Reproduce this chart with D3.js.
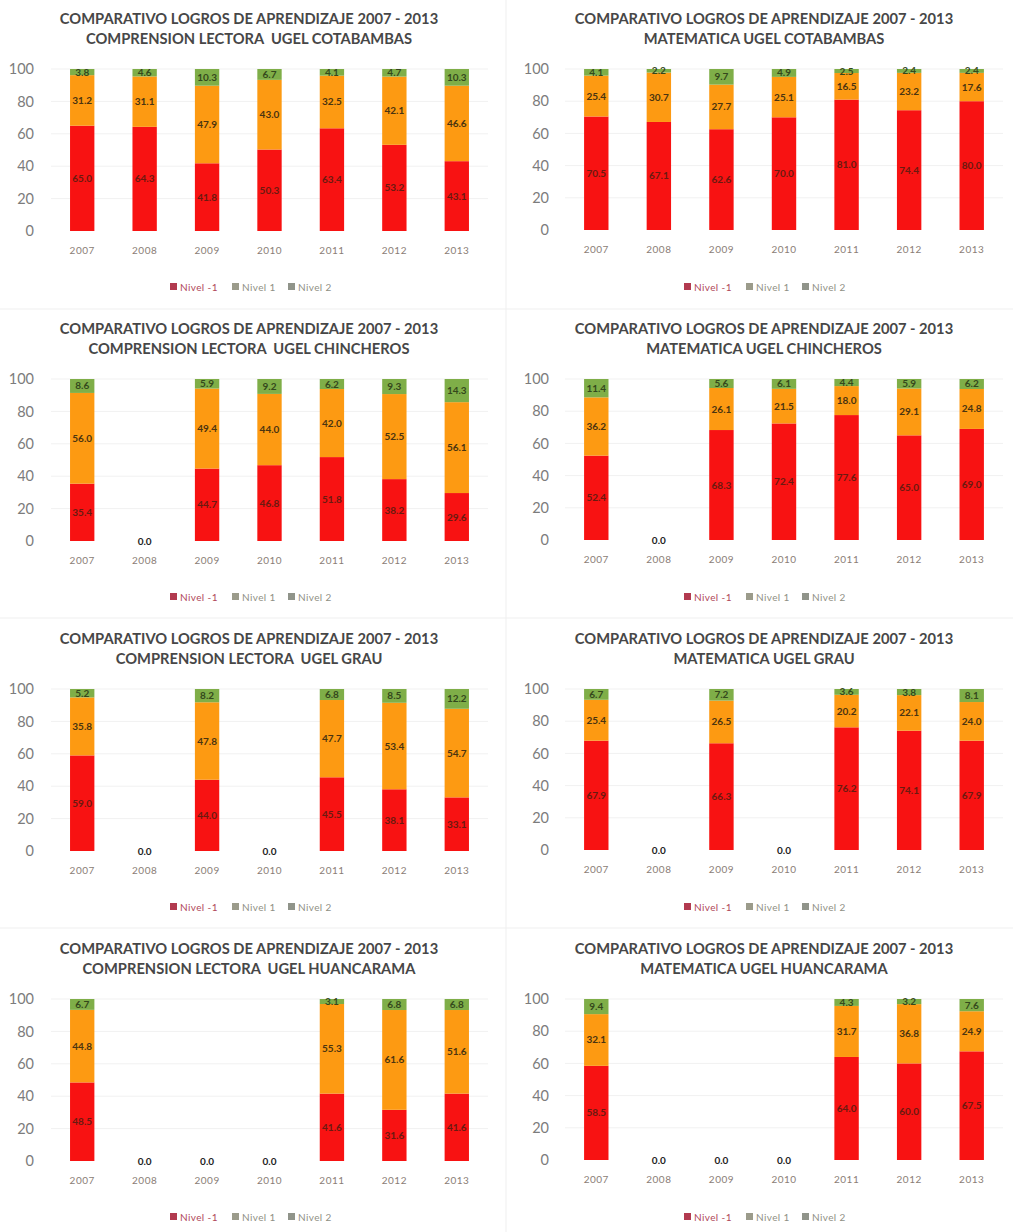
<!DOCTYPE html>
<html><head><meta charset="utf-8">
<script src="https://cdn.jsdelivr.net/npm/d3@7"></script>
<style>
body{margin:0;background:#fff}
text{font-family:Lato,"Open Sans",sans-serif}
</style>
</head><body>
<svg id="chart" width="1013" height="1232"></svg>
<script>
// ---------- data ----------
const years = ["2007","2008","2009","2010","2011","2012","2013"];
const seriesNames = ["Nivel -1","Nivel 1","Nivel 2"];
const titleLine1 = "COMPARATIVO LOGROS DE APRENDIZAJE 2007 - 2013";
const subtitles = [
  "COMPRENSION LECTORA  UGEL COTABAMBAS","MATEMATICA UGEL COTABAMBAS",
  "COMPRENSION LECTORA  UGEL CHINCHEROS","MATEMATICA UGEL CHINCHEROS",
  "COMPRENSION LECTORA  UGEL GRAU","MATEMATICA UGEL GRAU",
  "COMPRENSION LECTORA  UGEL HUANCARAMA","MATEMATICA UGEL HUANCARAMA"
];
const yTicks = [0,20,40,60,80,100];

const clCotabambasNm1 = [65.0,64.3,41.8,50.3,63.4,53.2,43.1];
const clCotabambasN1  = [31.2,31.1,47.9,43.0,32.5,42.1,46.6];
const clCotabambasN2  = [3.8,4.6,10.3,6.7,4.1,4.7,10.3];

const matCotabambasNm1 = [70.5,67.1,62.6,70.0,81.0,74.4,80.0];
const matCotabambasN1  = [25.4,30.7,27.7,25.1,16.5,23.2,17.6];
const matCotabambasN2  = [4.1,2.2,9.7,4.9,2.5,2.4,2.4];

const clChincherosNm1 = [35.4,0,44.7,46.8,51.8,38.2,29.6];
const clChincherosN1  = [56.0,0,49.4,44.0,42.0,52.5,56.1];
const clChincherosN2  = [8.6,0,5.9,9.2,6.2,9.3,14.3];

const matChincherosNm1 = [52.4,0,68.3,72.4,77.6,65.0,69.0];
const matChincherosN1  = [36.2,0,26.1,21.5,18.0,29.1,24.8];
const matChincherosN2  = [11.4,0,5.6,6.1,4.4,5.9,6.2];

const clGrauNm1 = [59.0,0,44.0,0,45.5,38.1,33.1];
const clGrauN1  = [35.8,0,47.8,0,47.7,53.4,54.7];
const clGrauN2  = [5.2,0,8.2,0,6.8,8.5,12.2];

const matGrauNm1 = [67.9,0,66.3,0,76.2,74.1,67.9];
const matGrauN1  = [25.4,0,26.5,0,20.2,22.1,24.0];
const matGrauN2  = [6.7,0,7.2,0,3.6,3.8,8.1];

const clHuancaramaNm1 = [48.5,0,0,0,41.6,31.6,41.6];
const clHuancaramaN1  = [44.8,0,0,0,55.3,61.6,51.6];
const clHuancaramaN2  = [6.7,0,0,0,3.1,6.8,6.8];

const matHuancaramaNm1 = [58.5,0,0,0,64.0,60.0,67.5];
const matHuancaramaN1  = [32.1,0,0,0,31.7,36.8,24.9];
const matHuancaramaN2  = [9.4,0,0,0,4.3,3.2,7.6];

const panelSeries = [
  [clCotabambasNm1,clCotabambasN1,clCotabambasN2],
  [matCotabambasNm1,matCotabambasN1,matCotabambasN2],
  [clChincherosNm1,clChincherosN1,clChincherosN2],
  [matChincherosNm1,matChincherosN1,matChincherosN2],
  [clGrauNm1,clGrauN1,clGrauN2],
  [matGrauNm1,matGrauN1,matGrauN2],
  [clHuancaramaNm1,clHuancaramaN1,clHuancaramaN2],
  [matHuancaramaNm1,matHuancaramaN1,matHuancaramaN2]
];

// ---------- styling ----------
const barColors = ["#f81212","#fd9a12","#7fae48"];
const labelColors = ["#6a1a10","#4a3410","#34481c"];
const legendSwatch = ["#b23a4f","#9b9b8b","#90948a"];
const legendText = ["#b0485a","#8f8f84","#8f8f84"];

const svg = d3.select("#chart");
svg.append("rect").attr("width",1013).attr("height",1232).attr("fill","#fff");

// faint panel separators
svg.append("line").attr("x1",506).attr("x2",506).attr("y1",0).attr("y2",1232).attr("stroke","#efefef");
[309,618,928].forEach(y=>svg.append("line").attr("x1",0).attr("x2",1013).attr("y1",y).attr("y2",y).attr("stroke","#efefef"));

const fmt = d3.format(".1f");

panelSeries.forEach((series,i)=>{
  const col = i%2, row = Math.floor(i/2);
  const ox = col*505, oy = row*310;
  const g = svg.append("g").attr("transform",`translate(${ox},${oy})`);
  const cx = col===0 ? 249 : 259;
  const x0 = col===0 ? 51 : 60, x1 = col===0 ? 488 : 498;
  const yBase = col===0 ? 231 : 230;

  const x = d3.scaleBand().domain(years).range([x0,x1]).paddingInner(0.61).paddingOuter(0.305);
  const y = d3.scaleLinear().domain([0,100]).range([yBase,69]);

  // titles
  g.append("text").attr("x",cx).attr("y",24).attr("text-anchor","middle")
    .attr("font-size",14.7).attr("font-weight",700).attr("fill","#474747").text(titleLine1);
  g.append("text").attr("x",cx).attr("y",44).attr("text-anchor","middle").style("white-space","pre")
    .attr("font-size",14.7).attr("font-weight",700).attr("fill","#474747").text(subtitles[i]);

  // gridlines
  g.append("g").selectAll("line").data(yTicks.slice(1)).join("line")
    .attr("x1",x0).attr("x2",x1).attr("y1",d=>y(d)).attr("y2",d=>y(d))
    .attr("stroke","#f1f1f1").attr("stroke-width",1);

  // y axis
  const ya = g.append("g").attr("transform",`translate(${x0},0)`)
    .call(d3.axisLeft(y).tickValues(yTicks).tickSize(0).tickPadding(col===0?17:16));
  ya.select(".domain").remove();
  ya.selectAll("text").attr("font-size",14.5).attr("fill","#7c7c7c").style("font-family","Lato, 'Open Sans', sans-serif");

  // x axis
  const xa = g.append("g").attr("transform",`translate(0,${yBase})`)
    .call(d3.axisBottom(x).tickSize(0).tickPadding(16));
  xa.select(".domain").remove();
  xa.selectAll("text").attr("font-size",10).attr("fill","#8a7d76").attr("letter-spacing","0.5px")
    .style("font-family","Lato, 'Open Sans', sans-serif");

  // stacked data
  const rows = years.map((yr,j)=>({year:yr, s0:series[0][j], s1:series[1][j], s2:series[2][j]}));
  const stack = d3.stack().keys(["s0","s1","s2"])(rows);

  stack.forEach((layer,k)=>{
    const lg = g.append("g");
    lg.selectAll("rect").data(layer.filter(d=>d[1]-d[0]>0)).join("rect")
      .attr("x",d=>x(d.data.year)).attr("width",x.bandwidth())
      .attr("y",d=>y(d[1])).attr("height",d=>y(d[0])-y(d[1]))
      .attr("fill",barColors[k]);
    lg.selectAll("text").data(layer.filter(d=>d[1]-d[0]>0)).join("text")
      .attr("x",d=>x(d.data.year)+x.bandwidth()/2)
      .attr("y",d=>(y(d[0])+y(d[1]))/2+3.5)
      .attr("text-anchor","middle").attr("font-size",10).attr("font-weight",700)
      .attr("fill",labelColors[k])
      .text(d=>fmt(d[1]-d[0]));
  });

  // zero labels for empty years
  g.append("g").selectAll("text").data(rows.filter(r=>r.s0+r.s1+r.s2===0)).join("text")
    .attr("x",d=>x(d.year)+x.bandwidth()/2).attr("y",y(0)+3.5)
    .attr("text-anchor","middle").attr("font-size",10).attr("font-weight",700).attr("fill","#222")
    .text(d=>fmt(d.s0));

  // legend
  const lx = col===0 ? 251 : 765;
  const offs = [-81,-19,37];
  const leg = g.append("g").attr("transform",`translate(${lx-ox},287)`);
  seriesNames.forEach((n,k)=>{
    leg.append("rect").attr("x",offs[k]).attr("y",-4).attr("width",7).attr("height",7).attr("fill",legendSwatch[k]);
    leg.append("text").attr("x",offs[k]+10).attr("y",3.5).attr("font-size",10).attr("letter-spacing","0.4px")
      .attr("fill",legendText[k]).text(n);
  });
});
</script>
</body></html>
